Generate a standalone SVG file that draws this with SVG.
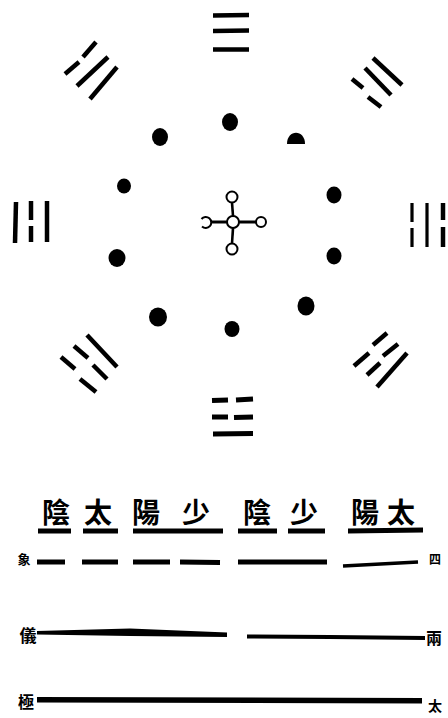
<svg xmlns="http://www.w3.org/2000/svg" width="448" height="718" viewBox="0 0 448 718">
<style>
.ln{stroke:#000;stroke-width:4.5;stroke-linecap:butt;fill:none}
.dot{fill:#000}
.ring{fill:#fff;stroke:#000;stroke-width:2}
.con{stroke:#000;stroke-width:2.6;fill:none}
.big{font-family:"Noto Sans CJK TC","Noto Sans CJK SC",serif;font-size:28px;font-weight:700;text-anchor:middle;fill:#000}
.sm{font-family:"Noto Sans CJK TC","Noto Sans CJK SC",serif;font-weight:700;text-anchor:middle;fill:#000}
</style>
<rect width="448" height="718" fill="#fff"/>

<g id="trigram-n" class="ln">
<line x1="213" y1="15.5" x2="249" y2="15"/>
<line x1="213" y1="31" x2="249" y2="30.5"/>
<line x1="213" y1="49.5" x2="249" y2="49.5"/>
</g>
<g id="trigram-nw" class="ln">
<line x1="65" y1="74" x2="79" y2="62"/>
<line x1="83" y1="57" x2="96" y2="42"/>
<line x1="77" y1="86" x2="108" y2="57"/>
<line x1="90" y1="99" x2="117" y2="67"/>
</g>
<g id="trigram-ne" class="ln">
<line x1="373" y1="58" x2="402" y2="85"/>
<line x1="365" y1="68" x2="391" y2="95"/>
<line x1="352" y1="79" x2="363" y2="88"/>
<line x1="368" y1="97" x2="381" y2="107"/>
</g>
<g id="trigram-w" class="ln">
<line x1="16" y1="202" x2="15" y2="243"/>
<line x1="31" y1="201" x2="31" y2="220"/>
<line x1="31" y1="226" x2="31" y2="242"/>
<line x1="47" y1="201" x2="47" y2="242"/>
</g>
<g id="trigram-e" class="ln">
<line x1="412" y1="203" x2="412" y2="222" style="stroke-width:3.2"/>
<line x1="412" y1="228" x2="412" y2="247" style="stroke-width:3.2"/>
<line x1="427" y1="203" x2="427" y2="247" style="stroke-width:3.2"/>
<line x1="443" y1="203" x2="443" y2="220"/>
<line x1="443" y1="227" x2="443" y2="247"/>
</g>
<g id="trigram-sw" class="ln">
<line x1="87" y1="335" x2="117" y2="367"/>
<line x1="74" y1="346" x2="88" y2="358"/>
<line x1="93" y1="365" x2="107" y2="379"/>
<line x1="61" y1="357" x2="75" y2="369"/>
<line x1="80" y1="379" x2="96" y2="392"/>
</g>
<g id="trigram-se" class="ln">
<line x1="354" y1="366" x2="369" y2="353"/>
<line x1="373" y1="345" x2="387" y2="333"/>
<line x1="367" y1="375" x2="380" y2="363"/>
<line x1="383" y1="356" x2="398" y2="344"/>
<line x1="377" y1="387" x2="407" y2="353"/>
</g>
<g id="trigram-s" class="ln" style="stroke-width:5">
<line x1="212" y1="400.5" x2="228" y2="400"/>
<line x1="236" y1="400" x2="253" y2="399"/>
<line x1="212" y1="417" x2="228" y2="417"/>
<line x1="234" y1="417.5" x2="253" y2="417"/>
<line x1="213" y1="434" x2="253" y2="433.5"/>
</g>

<g id="dots">
<ellipse class="dot" cx="230" cy="122" rx="8" ry="9"/>
<ellipse class="dot" cx="160" cy="137" rx="8" ry="9"/>
<path class="dot" d="M287,144 C287,129 305,129 305,144 Z"/>
<ellipse class="dot" cx="124" cy="186" rx="7" ry="7.5"/>
<ellipse class="dot" cx="334" cy="195" rx="7.5" ry="8.5"/>
<ellipse class="dot" cx="117" cy="258" rx="8.5" ry="9"/>
<ellipse class="dot" cx="334" cy="256" rx="7.5" ry="8.5"/>
<ellipse class="dot" cx="158" cy="317" rx="9" ry="9.5"/>
<ellipse class="dot" cx="306" cy="306" rx="8.5" ry="9.5"/>
<ellipse class="dot" cx="232" cy="329" rx="7.5" ry="8"/>
</g>

<g id="connectors">
<line class="con" x1="233" y1="216" x2="232" y2="202.5"/>
<line class="con" x1="239" y1="222" x2="256" y2="222" style="stroke-width:3"/>
<line class="con" x1="233" y1="228" x2="232" y2="243.5"/>
<line class="con" x1="227" y1="222" x2="210.5" y2="222" style="stroke-width:3"/>
</g>
<g id="center">
<circle class="ring" cx="233" cy="222" r="6"/>
<circle class="ring" cx="232" cy="197" r="5.5"/>
<circle class="ring" cx="261" cy="222" r="5"/>
<circle class="ring" cx="232" cy="249" r="5.5"/>
<path d="M201.5,219 A5.5,5.5 0 1 1 202,226.5" fill="#fff" stroke="#000" stroke-width="2"/>
</g>

<g id="labels">
<text class="big" x="56" y="523">陰</text>
<text class="big" x="98" y="523">太</text>
<text class="big" x="146" y="523">陽</text>
<text class="big" x="196" y="523">少</text>
<text class="big" x="257" y="523">陰</text>
<text class="big" x="304" y="523">少</text>
<text class="big" x="365" y="523">陽</text>
<text class="big" x="401" y="523">太</text>
</g>

<g id="sixiang" class="ln" style="stroke-width:5">
<line x1="38" y1="531" x2="71" y2="531"/>
<line x1="83" y1="531" x2="118" y2="531"/>
<line x1="133" y1="531" x2="223" y2="531"/>
<line x1="238" y1="531" x2="277" y2="531"/>
<line x1="288" y1="531" x2="325" y2="531"/>
<line x1="348" y1="531" x2="423" y2="530"/>
<line x1="37" y1="562" x2="65" y2="562"/>
<line x1="82" y1="562" x2="118" y2="562"/>
<line x1="133" y1="562" x2="170" y2="562"/>
<line x1="180" y1="562" x2="220" y2="562.5"/>
<line x1="238" y1="562" x2="327" y2="562"/>
<line x1="343" y1="566" x2="418" y2="562" style="stroke-width:3.5"/>
</g>
<g id="liangyi">
<path d="M37,631 L130,628.5 L227,632.5 L227,637 L130,636 L37,634.5 Z" fill="#000"/>
<path d="M247,634.5 L330,635 L425,636 L425,640 L330,639 L247,638.5 Z" fill="#000"/>
</g>
<g id="taiji">
<path d="M37,697 L422,698 L422,703.5 L37,702.5 Z" fill="#000"/>
</g>

<g id="side-labels">
<text class="sm" x="24" y="564" font-size="13">象</text>
<text class="sm" x="435" y="564" font-size="12">四</text>
<text class="sm" x="28" y="642" font-size="17">儀</text>
<text class="sm" x="434" y="644" font-size="16">兩</text>
<text class="sm" x="26" y="708" font-size="16">極</text>
<text class="sm" x="435" y="711" font-size="14">太</text>
</g>
</svg>
